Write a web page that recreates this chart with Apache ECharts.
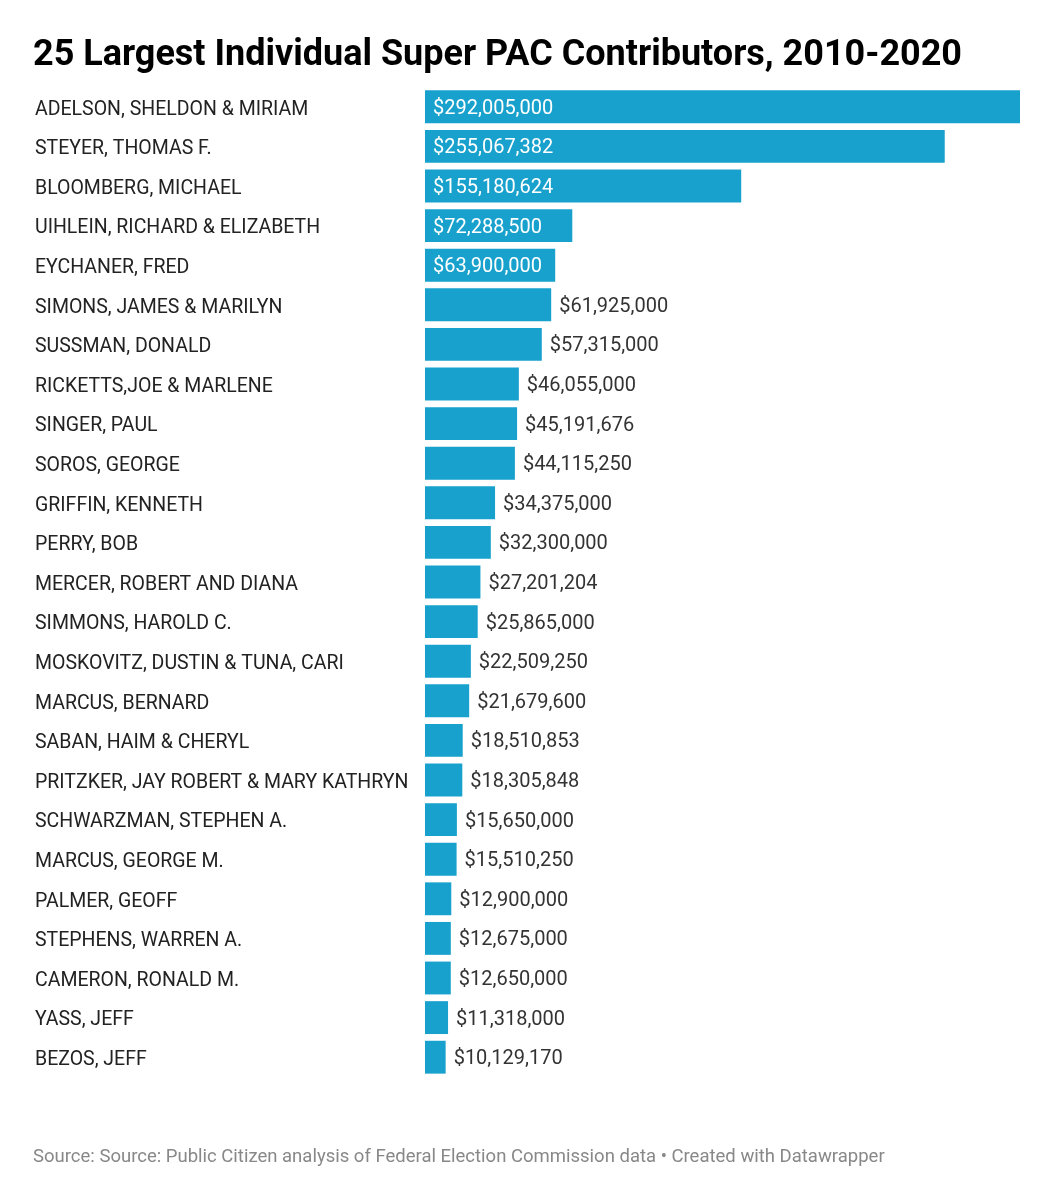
<!DOCTYPE html>
<html>
<head>
<meta charset="utf-8">
<script src="https://cdn.jsdelivr.net/npm/echarts@6/dist/echarts.min.js"></script>
<style>
  html, body { margin: 0; padding: 0; background: #fff; }
  #chart { width: 1055px; height: 1200px; }
</style>
</head>
<body>
<div id="chart"></div>
<script>
const names = [
  'ADELSON, SHELDON & MIRIAM', 'STEYER, THOMAS F.', 'BLOOMBERG, MICHAEL',
  'UIHLEIN, RICHARD & ELIZABETH', 'EYCHANER, FRED', 'SIMONS, JAMES & MARILYN',
  'SUSSMAN, DONALD', 'RICKETTS,JOE & MARLENE', 'SINGER, PAUL', 'SOROS, GEORGE',
  'GRIFFIN, KENNETH', 'PERRY, BOB', 'MERCER, ROBERT AND DIANA', 'SIMMONS, HAROLD C.',
  'MOSKOVITZ, DUSTIN & TUNA, CARI', 'MARCUS, BERNARD', 'SABAN, HAIM & CHERYL',
  'PRITZKER, JAY ROBERT & MARY KATHRYN', 'SCHWARZMAN, STEPHEN A.', 'MARCUS, GEORGE M.',
  'PALMER, GEOFF', 'STEPHENS, WARREN A.', 'CAMERON, RONALD M.', 'YASS, JEFF', 'BEZOS, JEFF'
];
const amounts = [
  292005000, 255067382, 155180624, 72288500, 63900000, 61925000,
  57315000, 46055000, 45191676, 44115250, 34375000, 32300000,
  27201204, 25865000, 22509250, 21679600, 18510853, 18305848,
  15650000, 15510250, 12900000, 12675000, 12650000, 11318000, 10129170
];
// bars whose value label sits inside the bar
const insideCount = 5;

const fmt = v => '$' + v.toLocaleString('en-US');

const chart = echarts.init(document.getElementById('chart'));

const barData = amounts.map((v, i) => {
  const inside = i < insideCount;
  return {
    value: v,
    label: inside
      ? { position: 'insideLeft', distance: 8, color: '#ffffff' }
      : { position: 'right', distance: 8, color: '#333333' }
  };
});

chart.setOption({
  animation: false,
  textStyle: { fontFamily: 'Roboto' },
  title: [
    {
      text: '25 Largest Individual Super PAC Contributors, 2010-2020',
      left: 28, top: 33,
      textStyle: { fontFamily: 'Roboto', fontWeight: 'bold', fontSize: 36, color: '#000' }
    },
    {
      text: 'Source: Source: Public Citizen analysis of Federal Election Commission data • Created with Datawrapper',
      left: 28, top: 1143,
      textStyle: { fontFamily: 'Roboto', fontWeight: 'normal', fontSize: 18.5, color: '#888888' }
    }
  ],
  grid: { left: 425, right: 35, top: 87, height: 990, containLabel: false },
  xAxis: {
    type: 'value', min: 0, max: amounts[0],
    show: false
  },
  yAxis: {
    type: 'category', data: names, inverse: true,
    axisLine: { show: false }, axisTick: { show: false },
    axisLabel: {
      align: 'left', margin: 390,
      formatter: v => '{n|' + v + '}',
      rich: {
        n: { padding: [6, 0, 0, 0], fontFamily: 'Roboto', fontSize: 19.5, color: '#222222' }
      }
    }
  },
  series: [{
    type: 'bar',
    data: barData,
    barCategoryGap: '17%',
    itemStyle: { color: '#18a1cd' },
    label: {
      show: true, offset: [0, 2],
      fontFamily: 'Roboto', fontSize: 20,
      formatter: p => fmt(p.value)
    }
  }]
});
</script>
</body>
</html>
